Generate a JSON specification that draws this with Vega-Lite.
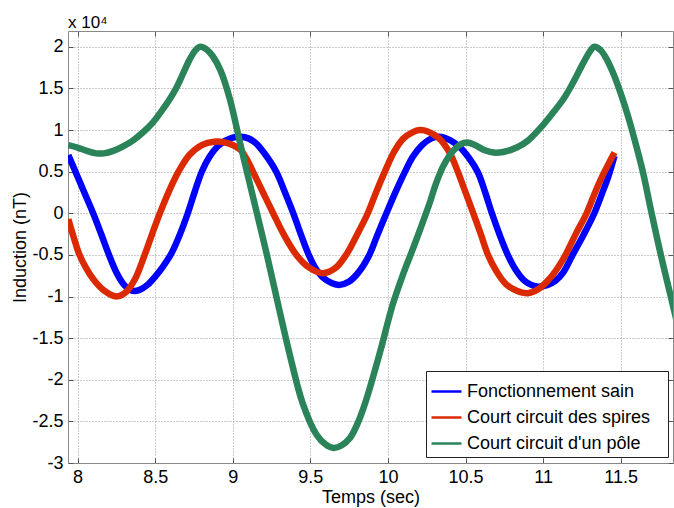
{
  "$schema": "https://vega.github.io/schema/vega-lite/v6.json",
  "width": 605,
  "height": 432,
  "autosize": {"type": "none"},
  "padding": {"left": 68, "top": 31, "right": 1, "bottom": 45},
  "background": "white",
  "title": {"text": "x 10⁴", "anchor": "start", "frame": "group", "fontSize": 17, "fontWeight": "normal", "font": "Liberation Sans", "color": "black", "offset": -1},
  "config": {
    "view": {"stroke": null},
    "font": "Liberation Sans",
    "axis": {
      "labelFont": "Liberation Sans", "labelFontSize": 18, "labelColor": "black",
      "titleFont": "Liberation Sans", "titleFontSize": 18, "titleFontWeight": "normal", "titleColor": "black",
      "domainColor": "#888888", "tickColor": "#555555", "tickSize": -5, "labelPadding": 10,
      "gridColor": "#999999", "gridDash": [1, 2], "gridWidth": 1
    },
    "legend": {
      "orient": "none", "legendX": 358, "legendY": 340, "direction": "vertical",
      "symbolType": "stroke", "symbolSize": 900, "symbolStrokeWidth": 2.5,
      "labelFont": "Liberation Sans", "labelFontSize": 18, "labelColor": "black", "labelOffset": 4, "labelLimit": 400,
      "padding": 4, "rowPadding": 0, "strokeColor": "#222222", "fillColor": "white"
    }
  },
  "data": {"values": [
    {"series": "Fonctionnement sain", "t": 7.94, "b": 7000},
    {"series": "Fonctionnement sain", "t": 8.00, "b": 4400},
    {"series": "Fonctionnement sain", "t": 8.05, "b": 2200},
    {"series": "Fonctionnement sain", "t": 8.10, "b": 0},
    {"series": "Fonctionnement sain", "t": 8.15, "b": -2400},
    {"series": "Fonctionnement sain", "t": 8.20, "b": -4900},
    {"series": "Fonctionnement sain", "t": 8.25, "b": -7100},
    {"series": "Fonctionnement sain", "t": 8.30, "b": -8600},
    {"series": "Fonctionnement sain", "t": 8.35, "b": -9300},
    {"series": "Fonctionnement sain", "t": 8.40, "b": -9200},
    {"series": "Fonctionnement sain", "t": 8.45, "b": -8600},
    {"series": "Fonctionnement sain", "t": 8.50, "b": -7600},
    {"series": "Fonctionnement sain", "t": 8.55, "b": -6400},
    {"series": "Fonctionnement sain", "t": 8.605, "b": -4800},
    {"series": "Fonctionnement sain", "t": 8.66, "b": -2500},
    {"series": "Fonctionnement sain", "t": 8.71, "b": 0},
    {"series": "Fonctionnement sain", "t": 8.755, "b": 2600},
    {"series": "Fonctionnement sain", "t": 8.80, "b": 5000},
    {"series": "Fonctionnement sain", "t": 8.85, "b": 6800},
    {"series": "Fonctionnement sain", "t": 8.90, "b": 8000},
    {"series": "Fonctionnement sain", "t": 8.95, "b": 8700},
    {"series": "Fonctionnement sain", "t": 9.00, "b": 9100},
    {"series": "Fonctionnement sain", "t": 9.05, "b": 9200},
    {"series": "Fonctionnement sain", "t": 9.10, "b": 9000},
    {"series": "Fonctionnement sain", "t": 9.15, "b": 8400},
    {"series": "Fonctionnement sain", "t": 9.20, "b": 7300},
    {"series": "Fonctionnement sain", "t": 9.28, "b": 5000},
    {"series": "Fonctionnement sain", "t": 9.33, "b": 2800},
    {"series": "Fonctionnement sain", "t": 9.39, "b": 0},
    {"series": "Fonctionnement sain", "t": 9.44, "b": -2600},
    {"series": "Fonctionnement sain", "t": 9.485, "b": -4800},
    {"series": "Fonctionnement sain", "t": 9.53, "b": -6500},
    {"series": "Fonctionnement sain", "t": 9.58, "b": -7700},
    {"series": "Fonctionnement sain", "t": 9.64, "b": -8400},
    {"series": "Fonctionnement sain", "t": 9.69, "b": -8600},
    {"series": "Fonctionnement sain", "t": 9.75, "b": -8200},
    {"series": "Fonctionnement sain", "t": 9.81, "b": -7100},
    {"series": "Fonctionnement sain", "t": 9.88, "b": -5000},
    {"series": "Fonctionnement sain", "t": 9.93, "b": -2700},
    {"series": "Fonctionnement sain", "t": 9.99, "b": 0},
    {"series": "Fonctionnement sain", "t": 10.05, "b": 2600},
    {"series": "Fonctionnement sain", "t": 10.11, "b": 5000},
    {"series": "Fonctionnement sain", "t": 10.16, "b": 6800},
    {"series": "Fonctionnement sain", "t": 10.22, "b": 8200},
    {"series": "Fonctionnement sain", "t": 10.28, "b": 9000},
    {"series": "Fonctionnement sain", "t": 10.33, "b": 9200},
    {"series": "Fonctionnement sain", "t": 10.40, "b": 8800},
    {"series": "Fonctionnement sain", "t": 10.46, "b": 8000},
    {"series": "Fonctionnement sain", "t": 10.52, "b": 6700},
    {"series": "Fonctionnement sain", "t": 10.58, "b": 4900},
    {"series": "Fonctionnement sain", "t": 10.625, "b": 2600},
    {"series": "Fonctionnement sain", "t": 10.67, "b": 0},
    {"series": "Fonctionnement sain", "t": 10.72, "b": -2600},
    {"series": "Fonctionnement sain", "t": 10.77, "b": -4900},
    {"series": "Fonctionnement sain", "t": 10.82, "b": -6700},
    {"series": "Fonctionnement sain", "t": 10.88, "b": -8100},
    {"series": "Fonctionnement sain", "t": 10.96, "b": -8800},
    {"series": "Fonctionnement sain", "t": 11.03, "b": -8600},
    {"series": "Fonctionnement sain", "t": 11.08, "b": -8100},
    {"series": "Fonctionnement sain", "t": 11.13, "b": -7100},
    {"series": "Fonctionnement sain", "t": 11.19, "b": -5000},
    {"series": "Fonctionnement sain", "t": 11.26, "b": -2600},
    {"series": "Fonctionnement sain", "t": 11.33, "b": 0},
    {"series": "Fonctionnement sain", "t": 11.38, "b": 2400},
    {"series": "Fonctionnement sain", "t": 11.42, "b": 4400},
    {"series": "Fonctionnement sain", "t": 11.46, "b": 6900},

    {"series": "Court circuit des spires", "t": 7.94, "b": -700},
    {"series": "Court circuit des spires", "t": 7.975, "b": -2900},
    {"series": "Court circuit des spires", "t": 8.01, "b": -4900},
    {"series": "Court circuit des spires", "t": 8.055, "b": -6600},
    {"series": "Court circuit des spires", "t": 8.10, "b": -7900},
    {"series": "Court circuit des spires", "t": 8.165, "b": -9200},
    {"series": "Court circuit des spires", "t": 8.25, "b": -10000},
    {"series": "Court circuit des spires", "t": 8.31, "b": -9500},
    {"series": "Court circuit des spires", "t": 8.37, "b": -7900},
    {"series": "Court circuit des spires", "t": 8.43, "b": -5100},
    {"series": "Court circuit des spires", "t": 8.48, "b": -2500},
    {"series": "Court circuit des spires", "t": 8.53, "b": 0},
    {"series": "Court circuit des spires", "t": 8.59, "b": 2700},
    {"series": "Court circuit des spires", "t": 8.65, "b": 5000},
    {"series": "Court circuit des spires", "t": 8.72, "b": 7000},
    {"series": "Court circuit des spires", "t": 8.80, "b": 8200},
    {"series": "Court circuit des spires", "t": 8.88, "b": 8600},
    {"series": "Court circuit des spires", "t": 8.95, "b": 8500},
    {"series": "Court circuit des spires", "t": 9.00, "b": 8200},
    {"series": "Court circuit des spires", "t": 9.05, "b": 7600},
    {"series": "Court circuit des spires", "t": 9.09, "b": 6500},
    {"series": "Court circuit des spires", "t": 9.13, "b": 5000},
    {"series": "Court circuit des spires", "t": 9.195, "b": 2500},
    {"series": "Court circuit des spires", "t": 9.26, "b": 0},
    {"series": "Court circuit des spires", "t": 9.33, "b": -2600},
    {"series": "Court circuit des spires", "t": 9.41, "b": -5000},
    {"series": "Court circuit des spires", "t": 9.49, "b": -6500},
    {"series": "Court circuit des spires", "t": 9.58, "b": -7200},
    {"series": "Court circuit des spires", "t": 9.66, "b": -6600},
    {"series": "Court circuit des spires", "t": 9.73, "b": -5000},
    {"series": "Court circuit des spires", "t": 9.80, "b": -2600},
    {"series": "Court circuit des spires", "t": 9.87, "b": 0},
    {"series": "Court circuit des spires", "t": 9.925, "b": 2600},
    {"series": "Court circuit des spires", "t": 9.98, "b": 5000},
    {"series": "Court circuit des spires", "t": 10.04, "b": 7400},
    {"series": "Court circuit des spires", "t": 10.10, "b": 9000},
    {"series": "Court circuit des spires", "t": 10.155, "b": 9700},
    {"series": "Court circuit des spires", "t": 10.205, "b": 10000},
    {"series": "Court circuit des spires", "t": 10.26, "b": 9800},
    {"series": "Court circuit des spires", "t": 10.33, "b": 9000},
    {"series": "Court circuit des spires", "t": 10.40, "b": 7200},
    {"series": "Court circuit des spires", "t": 10.45, "b": 5000},
    {"series": "Court circuit des spires", "t": 10.50, "b": 2500},
    {"series": "Court circuit des spires", "t": 10.55, "b": 0},
    {"series": "Court circuit des spires", "t": 10.60, "b": -2600},
    {"series": "Court circuit des spires", "t": 10.645, "b": -5000},
    {"series": "Court circuit des spires", "t": 10.70, "b": -7000},
    {"series": "Court circuit des spires", "t": 10.76, "b": -8500},
    {"series": "Court circuit des spires", "t": 10.83, "b": -9300},
    {"series": "Court circuit des spires", "t": 10.90, "b": -9600},
    {"series": "Court circuit des spires", "t": 10.97, "b": -9100},
    {"series": "Court circuit des spires", "t": 11.04, "b": -7900},
    {"series": "Court circuit des spires", "t": 11.10, "b": -6400},
    {"series": "Court circuit des spires", "t": 11.15, "b": -4800},
    {"series": "Court circuit des spires", "t": 11.21, "b": -2500},
    {"series": "Court circuit des spires", "t": 11.28, "b": 0},
    {"series": "Court circuit des spires", "t": 11.33, "b": 2300},
    {"series": "Court circuit des spires", "t": 11.38, "b": 4400},
    {"series": "Court circuit des spires", "t": 11.46, "b": 7300},

    {"series": "Court circuit d'un pôle", "t": 7.94, "b": 8200},
    {"series": "Court circuit d'un pôle", "t": 8.00, "b": 7900},
    {"series": "Court circuit d'un pôle", "t": 8.06, "b": 7500},
    {"series": "Court circuit d'un pôle", "t": 8.12, "b": 7200},
    {"series": "Court circuit d'un pôle", "t": 8.17, "b": 7200},
    {"series": "Court circuit d'un pôle", "t": 8.23, "b": 7500},
    {"series": "Court circuit d'un pôle", "t": 8.29, "b": 8000},
    {"series": "Court circuit d'un pôle", "t": 8.36, "b": 8800},
    {"series": "Court circuit d'un pôle", "t": 8.42, "b": 9700},
    {"series": "Court circuit d'un pôle", "t": 8.48, "b": 10800},
    {"series": "Court circuit d'un pôle", "t": 8.53, "b": 12000},
    {"series": "Court circuit d'un pôle", "t": 8.59, "b": 13600},
    {"series": "Court circuit d'un pôle", "t": 8.64, "b": 15200},
    {"series": "Court circuit d'un pôle", "t": 8.68, "b": 16800},
    {"series": "Court circuit d'un pôle", "t": 8.72, "b": 18400},
    {"series": "Court circuit d'un pôle", "t": 8.76, "b": 19600},
    {"series": "Court circuit d'un pôle", "t": 8.79, "b": 20000},
    {"series": "Court circuit d'un pôle", "t": 8.83, "b": 19700},
    {"series": "Court circuit d'un pôle", "t": 8.87, "b": 18900},
    {"series": "Court circuit d'un pôle", "t": 8.92, "b": 17200},
    {"series": "Court circuit d'un pôle", "t": 8.98, "b": 13800},
    {"series": "Court circuit d'un pôle", "t": 9.05, "b": 8200},
    {"series": "Court circuit d'un pôle", "t": 9.10, "b": 4300},
    {"series": "Court circuit d'un pôle", "t": 9.175, "b": -1500},
    {"series": "Court circuit d'un pôle", "t": 9.22, "b": -5000},
    {"series": "Court circuit d'un pôle", "t": 9.30, "b": -11600},
    {"series": "Court circuit d'un pôle", "t": 9.37, "b": -17200},
    {"series": "Court circuit d'un pôle", "t": 9.45, "b": -22800},
    {"series": "Court circuit d'un pôle", "t": 9.54, "b": -26600},
    {"series": "Court circuit d'un pôle", "t": 9.60, "b": -27800},
    {"series": "Court circuit d'un pôle", "t": 9.65, "b": -28200},
    {"series": "Court circuit d'un pôle", "t": 9.70, "b": -27900},
    {"series": "Court circuit d'un pôle", "t": 9.755, "b": -27000},
    {"series": "Court circuit d'un pôle", "t": 9.81, "b": -25000},
    {"series": "Court circuit d'un pôle", "t": 9.86, "b": -22400},
    {"series": "Court circuit d'un pôle", "t": 9.95, "b": -16600},
    {"series": "Court circuit d'un pôle", "t": 10.03, "b": -11000},
    {"series": "Court circuit d'un pôle", "t": 10.10, "b": -7200},
    {"series": "Court circuit d'un pôle", "t": 10.16, "b": -4300},
    {"series": "Court circuit d'un pôle", "t": 10.21, "b": -1800},
    {"series": "Court circuit d'un pôle", "t": 10.27, "b": 1300},
    {"series": "Court circuit d'un pôle", "t": 10.31, "b": 3600},
    {"series": "Court circuit d'un pôle", "t": 10.36, "b": 5800},
    {"series": "Court circuit d'un pôle", "t": 10.42, "b": 7500},
    {"series": "Court circuit d'un pôle", "t": 10.47, "b": 8300},
    {"series": "Court circuit d'un pôle", "t": 10.51, "b": 8500},
    {"series": "Court circuit d'un pôle", "t": 10.56, "b": 8200},
    {"series": "Court circuit d'un pôle", "t": 10.62, "b": 7600},
    {"series": "Court circuit d'un pôle", "t": 10.68, "b": 7300},
    {"series": "Court circuit d'un pôle", "t": 10.75, "b": 7400},
    {"series": "Court circuit d'un pôle", "t": 10.83, "b": 7900},
    {"series": "Court circuit d'un pôle", "t": 10.90, "b": 8700},
    {"series": "Court circuit d'un pôle", "t": 10.98, "b": 10200},
    {"series": "Court circuit d'un pôle", "t": 11.06, "b": 12000},
    {"series": "Court circuit d'un pôle", "t": 11.13, "b": 13700},
    {"series": "Court circuit d'un pôle", "t": 11.19, "b": 15600},
    {"series": "Court circuit d'un pôle", "t": 11.26, "b": 18100},
    {"series": "Court circuit d'un pôle", "t": 11.30, "b": 19400},
    {"series": "Court circuit d'un pôle", "t": 11.33, "b": 20000},
    {"series": "Court circuit d'un pôle", "t": 11.37, "b": 19600},
    {"series": "Court circuit d'un pôle", "t": 11.41, "b": 18500},
    {"series": "Court circuit d'un pôle", "t": 11.45, "b": 16900},
    {"series": "Court circuit d'un pôle", "t": 11.50, "b": 14400},
    {"series": "Court circuit d'un pôle", "t": 11.55, "b": 11500},
    {"series": "Court circuit d'un pôle", "t": 11.61, "b": 7400},
    {"series": "Court circuit d'un pôle", "t": 11.65, "b": 4400},
    {"series": "Court circuit d'un pôle", "t": 11.69, "b": 800},
    {"series": "Court circuit d'un pôle", "t": 11.75, "b": -4300},
    {"series": "Court circuit d'un pôle", "t": 11.82, "b": -9800},
    {"series": "Court circuit d'un pôle", "t": 11.86, "b": -12900}
  ]},
  "layer": [
    {
      "mark": {"type": "line", "strokeWidth": 6.5, "clip": true, "interpolate": "catmull-rom"},
      "encoding": {
        "x": {"field": "t", "type": "quantitative",
          "scale": {"domain": [7.938, 11.837], "nice": false, "zero": false},
          "axis": {"orient": "bottom", "values": [8, 8.5, 9, 9.5, 10, 10.5, 11, 11.5], "labelExpr": "'' + datum.value", "grid": true, "title": "Temps (sec)", "titlePadding": 2}},
        "y": {"field": "b", "type": "quantitative",
          "scale": {"domain": [-30000, 21900], "nice": false, "zero": false},
          "axis": {"orient": "left", "values": [-30000, -25000, -20000, -15000, -10000, -5000, 0, 5000, 10000, 15000, 20000], "labelExpr": "'' + datum.value / 10000", "grid": true, "title": "Induction (nT)", "titlePadding": 2}},
        "color": {"field": "series", "type": "nominal",
          "scale": {"domain": ["Fonctionnement sain", "Court circuit des spires", "Court circuit d'un pôle"], "range": ["#0000ff", "#dc2a00", "#2b8459"]},
          "legend": {"title": null, "labelExpr": "datum.label + '\u2800'"}},
        "detail": {"field": "series"}
      }
    },
    {
      "mark": {"type": "line", "opacity": 0, "strokeOpacity": 0},
      "encoding": {
        "x": {"field": "t", "type": "quantitative",
          "axis": {"orient": "top", "values": [8, 8.5, 9, 9.5, 10, 10.5, 11, 11.5], "labels": false, "grid": false, "title": null}},
        "y": {"field": "b", "type": "quantitative",
          "axis": {"orient": "right", "values": [-30000, -25000, -20000, -15000, -10000, -5000, 0, 5000, 10000, 15000, 20000], "labels": false, "grid": false, "title": null}},
        "detail": {"field": "series"}
      }
    }
  ],
  "resolve": {"axis": {"x": "independent", "y": "independent"}}
}
